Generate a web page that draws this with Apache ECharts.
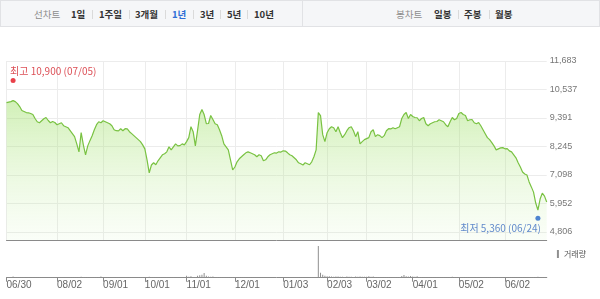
<!DOCTYPE html>
<html>
<head>
<meta charset="utf-8">
<script src="https://cdn.jsdelivr.net/npm/echarts@6/dist/echarts.min.js"></script>
<style>
  html, body { margin:0; padding:0; width:600px; height:299px; background:#fff; overflow:hidden; }
  #chart { position:absolute; left:0; top:0; width:600px; height:299px; }
  .bar { position:absolute; top:0; height:27px; background:#f5f6f8; border:1px solid #e1e2e5; box-sizing:border-box; z-index:2;
         font-family:'Noto Sans CJK KR', sans-serif; font-size:9.5px; }
  .bar span { position:absolute; top:7px; line-height:12px; white-space:nowrap; }
  .lbl { color:#8d8d8d; }
  .opt { color:#333; font-weight:bold; }
  .on { color:#2f6fd6; font-weight:bold; }
  .sep { width:1px; height:9px; background:#dadada; top:9px !important; }
</style>
</head>
<body>
<div class="bar" style="left:0;width:303px;">
  <span class="lbl" style="left:33px">선차트</span>
  <span class="opt" style="left:70px">1일</span>
  <span class="sep" style="left:91px"></span>
  <span class="opt" style="left:98px">1주일</span>
  <span class="sep" style="left:128px"></span>
  <span class="opt" style="left:134px">3개월</span>
  <span class="sep" style="left:164px"></span>
  <span class="on" style="left:171px">1년</span>
  <span class="sep" style="left:192px"></span>
  <span class="opt" style="left:199px">3년</span>
  <span class="sep" style="left:219px"></span>
  <span class="opt" style="left:226px">5년</span>
  <span class="sep" style="left:246px"></span>
  <span class="opt" style="left:253px">10년</span>
</div>
<div class="bar" style="left:302px;width:298px;">
  <span class="lbl" style="left:93px">봉차트</span>
  <span class="opt" style="left:131px">일봉</span>
  <span class="sep" style="left:155px"></span>
  <span class="opt" style="left:161px">주봉</span>
  <span class="sep" style="left:186px"></span>
  <span class="opt" style="left:192px">월봉</span>
</div>
<div id="chart"></div>
<script>
// ---- data ----
const startDate = '2021-06-30';
const endDate = '2022-06-30';
const holidays = ['2021-08-16','2021-09-20','2021-09-21','2021-09-22','2021-10-04','2021-10-11','2021-12-31',
  '2022-01-31','2022-02-01','2022-02-02','2022-03-01','2022-03-09','2022-05-05','2022-06-01','2022-06-06'];

const closesJul = [10010,10030,10050,10090,10050,9970,9850,9690,9650,9610,9600,9570,9530,9370,9240,9200,9280,9360,9410,9290,9200,9250,9210];
const closesAug = [9120,9160,9200,9080,9040,9000,8880,8760,8640,8350,8030,8800,8310,7910,8270,8480,8680,8920,9120,9240,9200];
const closesSep = [9280,9240,9200,9160,9080,8920,8880,8870,8960,8880,8960,8950,8840,8760,8680,8600,8520,8440,8310];
const closesOct = [8150,7710,7180,7500,7590,7510,7670,7790,7910,7950,8030,8230,8110,8230,8350,8270,8280,8350,8310];
const closesNov = [8440,8600,9040,8840,8270,8880,9530,9730,9530,9160,9170,9490,9330,9160,9120,8920,8680,8350,8230,8110,7710,7300];
const closesDec = [7420,7630,7750,7830,7910,7990,8030,7990,7950,7910,7830,7910,7870,7670,7710,7830,7910,7950,7990,7980,8030,8020];
const closesJan = [8070,8060,7990,7910,7870,7790,7710,7590,7550,7500,7590,7550,7510,7630,7830,8110,9610,9490,8720,8440];
const closesFeb = [8800,8960,9040,9000,8840,9040,8800,8600,8720,8880,9000,9040,8880,8640,8840,8350,8440,8520];
const closesMar = [8560,8600,8840,8920,8640,8720,8680,8600,8680,8880,8960,8950,9000,8960,9000,9040,9370,9530,9610,9370,9530];
const closesApr = [9450,9410,9400,9280,9370,9410,9160,9080,9160,9200,9240,9250,9320,9280,9240,9120,9040,9240,9410,9320,9370];
const closesMay = [9570,9610,9530,9490,9280,9320,9330,9200,9160,9210,9080,8920,8760,8600,8520,8400,8270,8110,8150,8190,8200];
const closesJun = [8150,8160,8070,8030,7910,7790,7590,7420,7220,7140,7100,6820,6620,6410,5970,5690,6130,6370,6250,6010];

const volJul = [420000,610000,380000,1300000,520000,450000,390000,350000,330000,300000,280000,310000,290000,400000,450000,380000,300000,280000,270000,320000,350000,300000,290000];
const volAug = [310000,280000,260000,300000,290000,320000,380000,410000,450000,700000,620000,900000,650000,520000,400000,380000,420000,460000,520000,480000,1200000];
const volSep = [450000,380000,330000,300000,280000,310000,290000,270000,260000,280000,300000,270000,250000,260000,280000,300000,320000,350000,400000];
const volOct = [450000,700000,850000,500000,420000,380000,350000,330000,320000,300000,340000,310000,290000,330000,300000,310000,350000,380000,600000];
const volNov = [2000000,900000,1500000,800000,700000,2000000,2500000,3000000,4800000,2000000,1200000,1000000,1100000,800000,600000,550000,500000,480000,450000,420000,500000,650000];
const volDec = [600000,450000,400000,380000,350000,330000,320000,300000,290000,280000,300000,270000,260000,300000,280000,260000,250000,240000,230000,250000,240000,230000];
const volJan = [300000,280000,260000,250000,270000,290000,300000,320000,310000,300000,280000,290000,300000,350000,450000,700000,32000000,5000000,3000000,2000000];
const volFeb = [1500000,1400000,1300000,1000000,1200000,1100000,900000,1000000,800000,1100000,900000,1000000,800000,1200000,900000,1300000,1000000,900000];
const volMar = [1000000,1500000,900000,1100000,800000,700000,600000,550000,500000,600000,650000,550000,500000,600000,550000,700000,1800000,2700000,1500000,1200000,1600000];
const volApr = [1300000,1000000,1500000,700000,600000,500000,450000,420000,400000,380000,400000,420000,380000,360000,350000,380000,400000,600000,1000000,500000,450000];
const volMay = [550000,480000,400000,380000,350000,330000,320000,300000,290000,300000,310000,350000,380000,400000,420000,450000,480000,520000,450000,400000,380000];
const volJun = [400000,380000,360000,350000,380000,420000,480000,520000,560000,500000,480000,600000,650000,700000,800000,900000,700000,600000,550000,500000];

const yTicks = [4806, 5952, 7098, 8245, 9391, 10537, 11683];
const highValue = 10900, highDate = '2021-07-05';
const lowValue = 5360, lowDate = '2022-06-24';

// ---- build ----
function tradingDates(s, e, hol) {
  const out = [];
  const d = new Date(s + 'T00:00:00Z');
  const end = new Date(e + 'T00:00:00Z');
  while (d <= end) {
    const wd = d.getUTCDay();
    const iso = d.toISOString().slice(0, 10);
    if (wd !== 0 && wd !== 6 && hol.indexOf(iso) < 0) out.push(iso);
    d.setUTCDate(d.getUTCDate() + 1);
  }
  return out;
}
const dates = tradingDates(startDate, endDate, holidays);
const closes = [].concat(closesJul, closesAug, closesSep, closesOct, closesNov, closesDec, closesJan, closesFeb, closesMar, closesApr, closesMay, closesJun);
const volumes = [].concat(volJul, volAug, volSep, volOct, volNov, volDec, volJan, volFeb, volMar, volApr, volMay, volJun);

const mmdd = s => s.slice(5).replace('-', '/');
// first day of the range, then the first trading day of each following month (skipping one that would crowd the first)
const isMonthStart = (i) => i === 0 || (i > 5 && dates[i] && dates[i - 1] && dates[i].slice(5, 7) !== dates[i - 1].slice(5, 7));
const fmt = v => v.toLocaleString('en-US');
const hiIdx = dates.indexOf(highDate);
const loIdx = dates.indexOf(lowDate);

const latin = "'Liberation Sans', Arial, 'Noto Sans CJK KR', sans-serif";
const kr = "'Noto Sans CJK KR', sans-serif";

const chart = echarts.init(document.getElementById('chart'));
chart.setOption({
  animation: false,
  grid: [
    { left: 6.5, right: 53.3, top: 61, height: 179 },
    { left: 6.5, right: 53.3, top: 246, height: 31.7 }
  ],
  legend: {
    data: ['거래량'], right: 9, top: 245, icon: 'rect', itemWidth: 2, itemHeight: 8, itemGap: 3,
    textStyle: { fontSize: 8, color: '#555', fontFamily: kr }, selectedMode: false
  },
  xAxis: [
    { type: 'category', gridIndex: 0, data: dates, boundaryGap: false,
      axisLine: { show: true, lineStyle: { color: '#8a8a8a', width: 1 } },
      axisTick: { show: false }, axisLabel: { show: false },
      splitLine: { show: true, interval: isMonthStart, lineStyle: { color: '#ececec' } } },
    { type: 'category', gridIndex: 1, data: dates, boundaryGap: false,
      axisLine: { show: true, lineStyle: { color: '#8a8a8a', width: 1 } },
      axisTick: { show: true, interval: isMonthStart, length: 4, lineStyle: { color: '#8a8a8a' } },
      axisLabel: { show: true, interval: isMonthStart, formatter: mmdd, align: 'left', margin: 3,
        color: '#666', fontSize: 10, fontFamily: latin },
      splitLine: { show: false } }
  ],
  yAxis: [
    { type: 'value', gridIndex: 0, position: 'right', min: 4484, max: 11683,
      axisLine: { show: false }, axisTick: { show: false, customValues: yTicks },
      axisLabel: { customValues: yTicks, formatter: v => fmt(v), color: '#777', fontSize: 9, margin: 3, fontFamily: latin },
      splitLine: { show: true, lineStyle: { color: '#ececec' } } },
    { type: 'value', gridIndex: 1, min: 0, max: 'dataMax', show: false, splitLine: { show: false } }
  ],
  series: [
    { name: '종가', type: 'line', xAxisIndex: 0, yAxisIndex: 0, data: closes, symbol: 'none', z: 3,
      lineStyle: { color: '#79c242', width: 1.2 },
      areaStyle: { origin: 'start', color: { type: 'linear', x: 0, y: 0, x2: 0, y2: 1, colorStops: [
        { offset: 0, color: 'rgba(150,220,90,0.62)' }, { offset: 1, color: 'rgba(200,240,170,0.12)' } ] } } },
    { name: '거래량', type: 'bar', xAxisIndex: 1, yAxisIndex: 1, data: volumes, barWidth: 1,
      itemStyle: { color: '#8f8f8f' } },
    { name: '최고', type: 'scatter', xAxisIndex: 0, yAxisIndex: 0, data: [[hiIdx, highValue]], symbolSize: 5, z: 5,
      itemStyle: { color: '#e3101c' },
      label: { show: true, position: 'top', align: 'left', distance: 2, offset: [-3, 0],
        formatter: '최고 ' + fmt(highValue) + ' (' + mmdd(highDate) + ')', color: '#d3222a', fontSize: 10, fontFamily: kr } },
    { name: '최저', type: 'scatter', xAxisIndex: 0, yAxisIndex: 0, data: [[loIdx, lowValue]], symbolSize: 5, z: 5,
      itemStyle: { color: '#2566c8' },
      label: { show: true, position: 'bottom', align: 'right', distance: 2, offset: [3, 0],
        formatter: '최저 ' + fmt(lowValue) + ' (' + mmdd(lowDate) + ')', color: '#3a6cc0', fontSize: 10, fontFamily: kr } }
  ]
});
</script>
</body>
</html>
